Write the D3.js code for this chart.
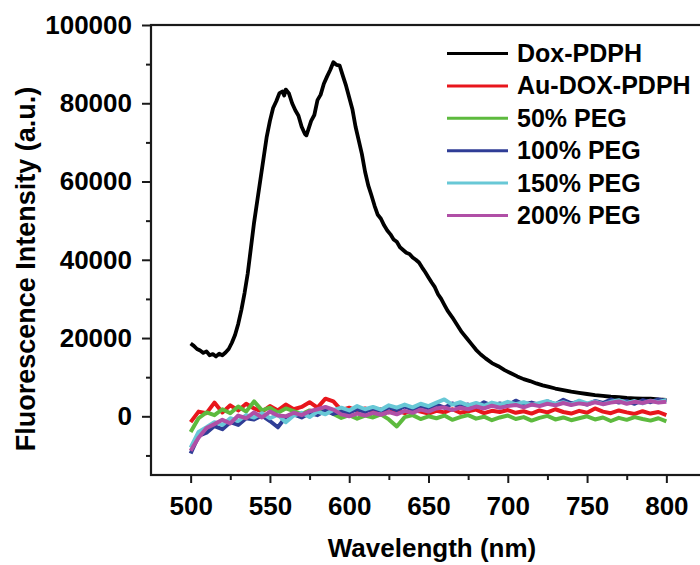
<!DOCTYPE html>
<html>
<head>
<meta charset="utf-8">
<script src="https://cdn.jsdelivr.net/npm/d3@7"></script>
<style>
  body { margin: 0; background: #fff; }
  svg { display: block; font-family: "Liberation Sans", Arial, sans-serif; font-weight: bold; }
</style>
</head>
<body>
<svg width="700" height="565"></svg>
<script>
// Dox-PDPH spectrum (wavelength, intensity)
var doxWl = [500,502,504,506,508,510,512,514,516,518,520,522,524,526,528,530,532,534,536,538,
  540,542,544,546,548,550,552,554,556,558,559,560,562,564,566,568,570,572,573,574,576,578,
  580,582,584,586,588,590,592,594,596,598,600,602,604,606,608,610,612,614,616,618,620,622,
  624,626,628,630,632,634,636,638,640,642,644,646,648,650,652,654,656,658,660,662,665,668,
  671,674,677,680,683,686,690,694,698,702,706,710,714,718,722,726,730,735,740,745,750,755,
  760,765,770,775,780,785,790,795,800];
var doxVal = [18600,18000,17200,16800,16200,16600,15600,15900,15300,16000,15600,16300,17200,18800,20800,23600,27200,31500,36500,43000,
  49500,55000,60500,66000,71500,75500,78800,80500,82600,83000,82000,83500,82500,80000,78200,76800,74000,72200,71800,73000,75500,77000,
  80800,82200,85000,86800,88500,90500,89800,89600,87000,84500,81500,78500,74000,70500,67000,62500,59000,56500,53800,51500,50500,48800,
  47500,46500,45200,44600,43200,42500,41800,41500,40600,40000,39300,38000,36800,35500,34200,33000,31200,30000,28500,27000,25300,23400,
  21500,20000,18500,17000,15800,14800,13600,12800,11800,11000,10200,9500,9000,8400,7900,7500,7100,6700,6300,6000,5700,5400,
  5200,5000,4900,4700,4600,4500,4500,4300,4200];

// shared wavelength grid for the low-signal samples
var gridWl = [500,505,510,515,520,525,530,535,540,545,550,555,560,565,570,575,580,585,590,595,
  600,605,610,615,620,625,630,635,640,645,650,655,660,665,670,675,680,685,690,695,
  700,705,710,715,720,725,730,735,740,745,750,755,760,765,770,775,780,785,790,795,800];

var auVal = [-1500,1200,800,3500,1000,2800,1500,3200,2000,1200,2600,1500,3000,1800,2400,3600,2200,4500,3800,1600,
  2200,1400,2000,1200,1800,1000,1500,800,1600,1200,700,1400,1000,1800,900,1300,1700,800,1400,1100,
  1600,900,1300,700,1500,1000,1800,1100,700,1400,900,2000,1200,800,1500,1000,600,1300,700,1100,300];
var peg50Val = [-4000,-500,1000,300,1800,800,2500,1200,3800,1500,2200,900,2000,1300,600,1500,900,1800,600,-400,
  300,-600,200,-300,500,-800,-2600,-200,300,-700,0,-500,200,-900,-200,300,-600,-100,-1000,-300,
  200,-700,-200,-1100,-400,100,-800,-300,-1000,-500,0,-800,-300,-1200,-400,-900,-200,-700,-1100,-500,-1300];
var peg100Val = [-9500,-5000,-4200,-2500,-3300,-1500,-2200,-500,-800,200,-1200,-2800,-200,500,-300,800,300,1500,600,1200,
  900,1800,1100,2000,1400,2300,1600,2500,1800,2700,2000,3000,2200,3300,2500,3000,2400,3600,2700,3300,
  2800,4000,3000,3500,2900,3800,3100,4200,3300,3700,3000,3900,3400,4300,3500,3900,3200,4100,3600,4300,3900];
var peg150Val = [-8000,-4000,-2800,-1500,-2200,-500,-1200,300,-300,800,-500,400,-1500,200,900,-200,1200,500,1600,2200,
  1500,2600,1800,2400,1700,2800,2200,3000,2300,3200,2600,3500,4300,3000,3600,2800,3400,2700,3500,3000,
  3700,3100,3600,2900,3400,3900,3200,3600,3000,4000,3300,3800,3100,3700,4100,3400,3900,3300,4000,3600,4200];
var peg200Val = [-8800,-5500,-3000,-2000,-900,-1800,200,-500,1000,-300,1200,200,0,900,300,1300,1800,2400,1700,500,
  0,700,200,900,400,1100,500,1400,900,1700,1200,2000,2300,1600,2200,1800,2500,2000,2700,2200,
  2600,2900,2300,3000,2600,3200,2800,3400,2900,3300,3000,3600,3100,3500,3800,3200,3700,3400,3900,3500,3700];

var seriesNames = ["Dox-PDPH", "Au-DOX-PDPH", "50% PEG", "100% PEG", "150% PEG", "200% PEG"];
var seriesColors = ["#000000", "#e8161c", "#5dba3e", "#2f3d96", "#68c8d6", "#b04fa6"];

var xTicks = [500, 550, 600, 650, 700, 750, 800];
var xMinor = [525, 575, 625, 675, 725, 775];
var yTicks = [0, 20000, 40000, 60000, 80000, 100000];
var yMinor = [-10000, 10000, 30000, 50000, 70000, 90000];

var svg = d3.select("svg"),
    width = +svg.attr("width"),
    height = +svg.attr("height");

// plot box (right edge runs just past the window, as in the original crop)
var plotL = 151, plotT = 25, plotR = 706, plotB = 475;

var x = d3.scaleLinear().domain([475, 825]).range([plotL, plotR]);
var y = d3.scaleLinear().domain([-15000, 100000]).range([plotB, plotT]);

// build series list
var series = [
  { name: seriesNames[0], color: seriesColors[0], pts: doxWl.map(function(w, i) { return [w, doxVal[i]]; }) },
  { name: seriesNames[1], color: seriesColors[1], pts: gridWl.map(function(w, i) { return [w, auVal[i]]; }) },
  { name: seriesNames[2], color: seriesColors[2], pts: gridWl.map(function(w, i) { return [w, peg50Val[i]]; }) },
  { name: seriesNames[3], color: seriesColors[3], pts: gridWl.map(function(w, i) { return [w, peg100Val[i]]; }) },
  { name: seriesNames[4], color: seriesColors[4], pts: gridWl.map(function(w, i) { return [w, peg150Val[i]]; }) },
  { name: seriesNames[5], color: seriesColors[5], pts: gridWl.map(function(w, i) { return [w, peg200Val[i]]; }) }
];

var line = d3.line()
    .x(function(d) { return x(d[0]); })
    .y(function(d) { return y(d[1]); });

svg.append("g")
  .selectAll("path")
  .data(series)
  .enter().append("path")
    .attr("d", function(d) { return line(d.pts); })
    .attr("fill", "none")
    .attr("stroke", function(d) { return d.color; })
    .attr("stroke-width", function(d, i) { return i === 0 ? 3.8 : 4; })
    .attr("stroke-linejoin", "round");

// frame
svg.append("rect")
    .attr("x", plotL).attr("y", plotT)
    .attr("width", plotR - plotL).attr("height", plotB - plotT)
    .attr("fill", "none")
    .attr("stroke", "#1a1a1a")
    .attr("stroke-width", 2.2);

// x axis
svg.append("g")
    .attr("transform", "translate(0," + plotB + ")")
    .call(d3.axisBottom(x).tickValues(xTicks).tickSize(8).tickPadding(14));
svg.append("g")
    .attr("transform", "translate(0," + plotB + ")")
    .call(d3.axisBottom(x).tickValues(xMinor).tickSize(5).tickFormat(""));

// y axis
svg.append("g")
    .attr("transform", "translate(" + plotL + ",0)")
    .call(d3.axisLeft(y).tickValues(yTicks).tickSize(9).tickPadding(10).tickFormat(d3.format("d")));
svg.append("g")
    .attr("transform", "translate(" + plotL + ",0)")
    .call(d3.axisLeft(y).tickValues(yMinor).tickSize(5).tickFormat(""));

svg.selectAll(".domain").remove();
svg.selectAll(".tick line").attr("stroke", "#1a1a1a").attr("stroke-width", 2);
svg.selectAll(".tick text")
    .attr("fill", "#000")
    .style("font-family", "'Liberation Sans', Arial, sans-serif")
    .style("font-weight", "bold")
    .style("font-size", "26px");

// axis titles
svg.append("text")
    .attr("x", 432)
    .attr("y", 557)
    .attr("text-anchor", "middle")
    .style("font-size", "26px")
    .text("Wavelength (nm)");

svg.append("text")
    .attr("transform", "translate(35,269) rotate(-90)")
    .attr("text-anchor", "middle")
    .style("font-size", "27px")
    .text("Fluorescence Intensity (a.u.)");

// legend
var legend = svg.append("g")
  .selectAll("g")
  .data(series)
  .enter().append("g")
    .attr("transform", function(d, i) { return "translate(447," + (53.5 + i * 32.4) + ")"; });

legend.append("line")
    .attr("x1", 0).attr("x2", 61)
    .attr("stroke", function(d) { return d.color; })
    .attr("stroke-width", 3);

legend.append("text")
    .attr("x", 70)
    .attr("y", 8.5)
    .style("font-size", "25px")
    .text(function(d) { return d.name; });
</script>
</body>
</html>
